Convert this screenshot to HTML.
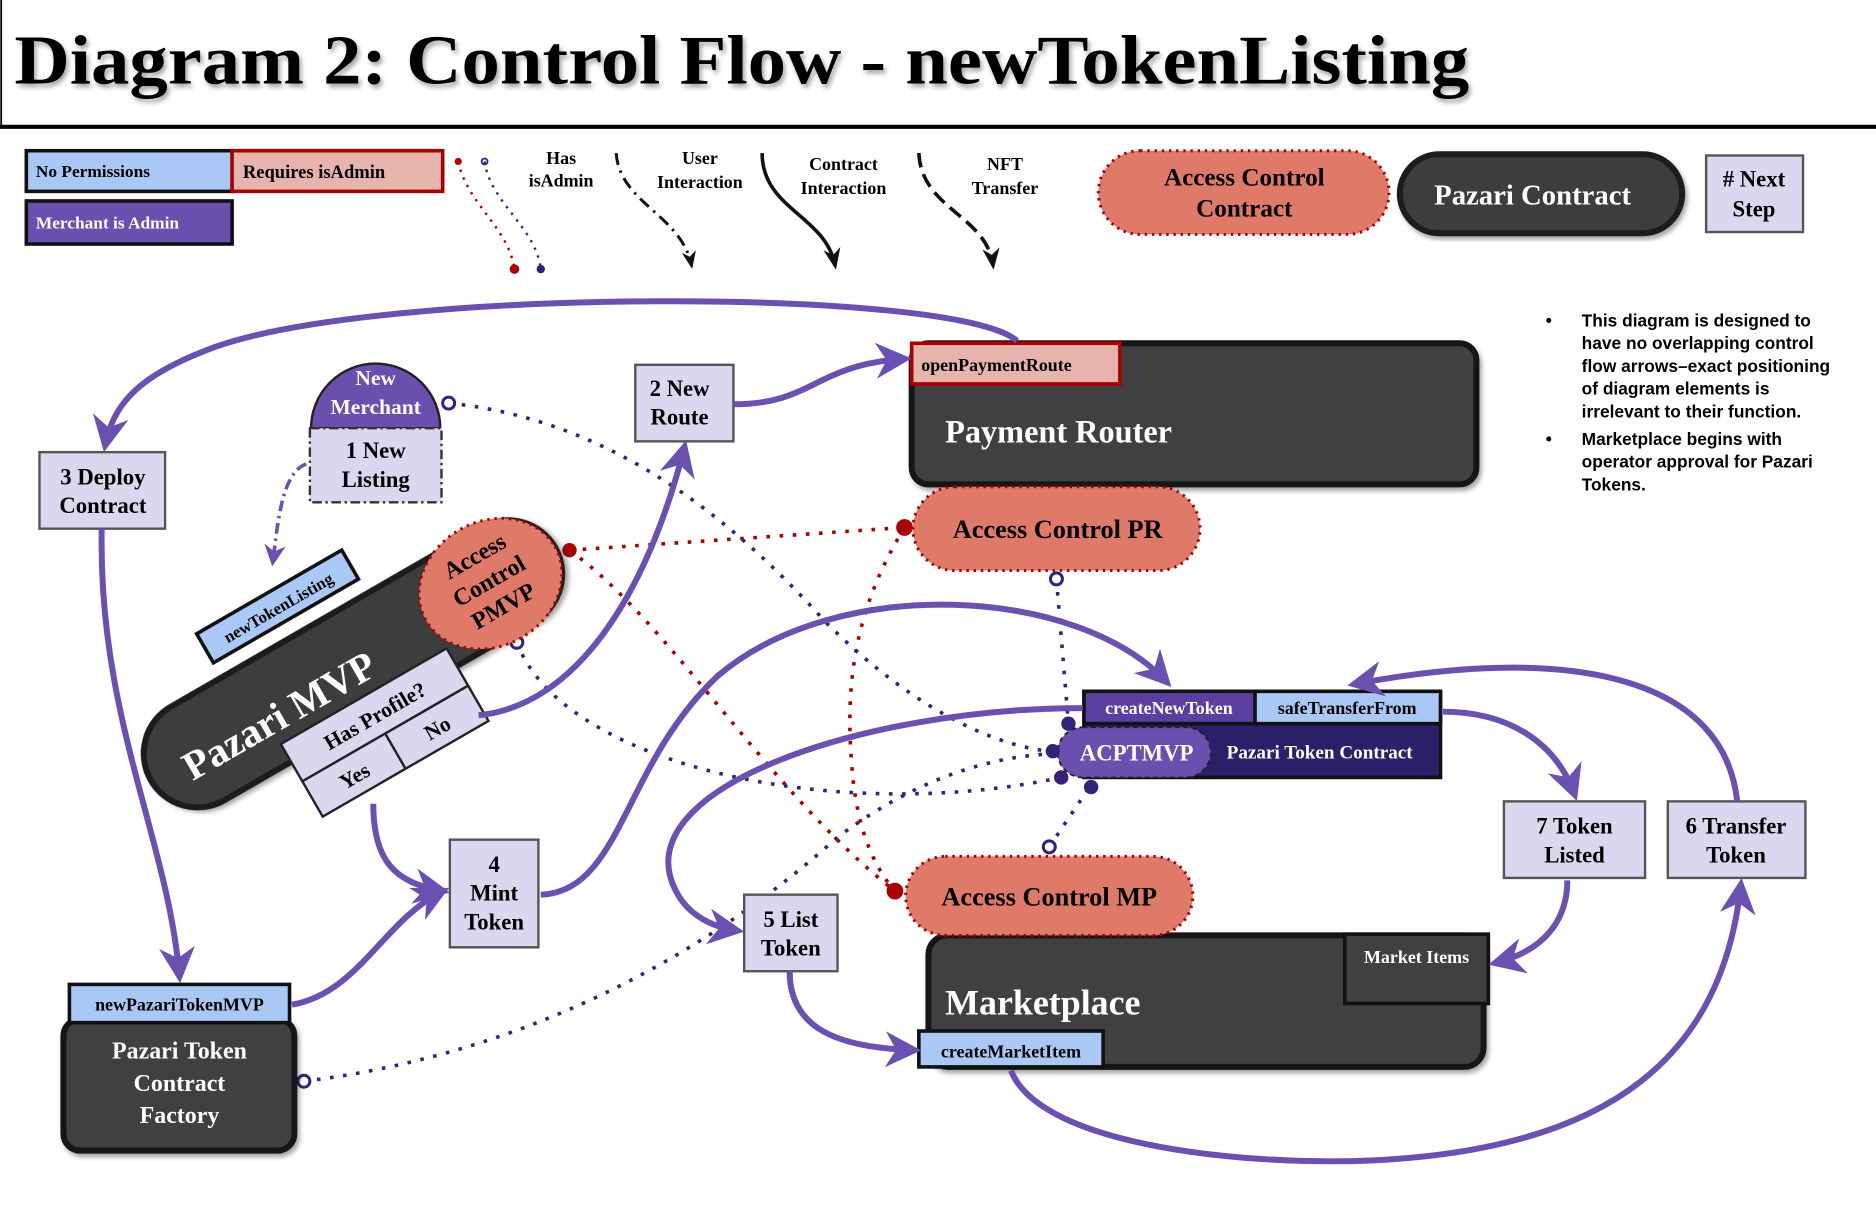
<!DOCTYPE html>
<html><head><meta charset="utf-8"><style>
html,body{margin:0;padding:0;background:#fff;}
svg{display:block;}
text{font-family:"Liberation Serif",serif;font-weight:bold;}
.s{font-family:"Liberation Sans",sans-serif;}
</style></head><body>
<svg width="1876" height="1226" viewBox="0 0 1568 1025" preserveAspectRatio="none" xmlns="http://www.w3.org/2000/svg">
<defs>
<marker id="ah" viewBox="0 0 10 10" refX="8" refY="5" markerWidth="6" markerHeight="6" orient="auto" markerUnits="strokeWidth"><path d="M0,0 L10,5 L0,10 L3,5 z" fill="#6a50b0"/></marker>
<marker id="bk" viewBox="0 0 10 10" refX="8" refY="5" markerWidth="6" markerHeight="6" orient="auto" markerUnits="strokeWidth"><path d="M0,1 L10,5 L0,9 L3,5 z" fill="#111"/></marker>
<filter id="sh"><feDropShadow dx="2" dy="3" stdDeviation="2" flood-opacity="0.35"/></filter>
</defs>

<line x1="1" y1="0" x2="1" y2="105" stroke="#000" stroke-width="1.5"/>
<line x1="0" y1="106" x2="1568" y2="106" stroke="#000" stroke-width="3.5"/>
<text x="12" y="70" font-size="58" textLength="1216" lengthAdjust="spacingAndGlyphs" filter="url(#sh)">Diagram 2: Control Flow - newTokenListing</text>

<rect x="22" y="126" width="172" height="34" fill="#a9c8f5" stroke="#111" stroke-width="3"/>
<text x="30" y="148" font-size="14.5" font-weight="normal">No Permissions</text>
<rect x="194" y="126" width="176" height="34" fill="#e6b3ad" stroke="#a00" stroke-width="3"/>
<text x="203" y="149" font-size="15.5" font-weight="normal">Requires isAdmin</text>
<rect x="22" y="168" width="172" height="36" fill="#6a4fae" stroke="#111" stroke-width="3"/>
<text x="30" y="191" font-size="14.5" font-weight="normal" fill="#fff">Merchant is Admin</text>

<path d="M383,135 C390,170 425,190 430,225" fill="none" stroke="#a00" stroke-width="2" stroke-dasharray="2 5"/>
<circle cx="383" cy="135" r="3" fill="#a00"/><circle cx="430" cy="225" r="4" fill="#a00"/>
<path d="M405,135 C410,170 448,190 452,225" fill="none" stroke="#33227a" stroke-width="2" stroke-dasharray="2 5"/>
<circle cx="405" cy="135" r="2.5" fill="none" stroke="#33227a" stroke-width="1.5"/><circle cx="452" cy="225" r="3.5" fill="#33227a"/>
<text x="469" y="137" font-size="15" text-anchor="middle" font-weight="normal">Has</text>
<text x="469" y="156" font-size="15" text-anchor="middle" font-weight="normal">isAdmin</text>
<path d="M515,128 C518,170 570,180 578,222" fill="none" stroke="#111" stroke-width="2.5" stroke-dasharray="10 5 2 5" marker-end="url(#bk)"/>
<text x="585" y="137" font-size="15" text-anchor="middle" font-weight="normal">User</text>
<text x="585" y="157" font-size="15" text-anchor="middle" font-weight="normal">Interaction</text>
<path d="M637,128 C637,175 690,180 698,222" fill="none" stroke="#111" stroke-width="3" marker-end="url(#bk)"/>
<text x="705" y="142" font-size="15" text-anchor="middle" font-weight="normal">Contract</text>
<text x="705" y="162" font-size="15" text-anchor="middle" font-weight="normal">Interaction</text>
<path d="M768,128 C770,175 825,180 830,222" fill="none" stroke="#111" stroke-width="3" stroke-dasharray="12 6" marker-end="url(#bk)"/>
<text x="840" y="142" font-size="15" text-anchor="middle" font-weight="normal">NFT</text>
<text x="840" y="162" font-size="15" text-anchor="middle" font-weight="normal">Transfer</text>

<rect x="918" y="126" width="243" height="70" rx="35" fill="#e07a68" stroke="#a00" stroke-width="2.5" stroke-dasharray="2 4"/>
<text x="1040" y="155" font-size="21" text-anchor="middle" font-weight="normal">Access Control</text>
<text x="1040" y="181" font-size="21" text-anchor="middle" font-weight="normal">Contract</text>
<rect x="1170" y="129" width="236" height="66" rx="33" fill="#3d3d3d" stroke="#1a1a1a" stroke-width="5" filter="url(#sh)"/>
<text x="1281" y="171" font-size="24" text-anchor="middle" fill="#fff" font-weight="normal">Pazari Contract</text>
<rect x="1426" y="130" width="81" height="64" fill="#dcd6ef" stroke="#555" stroke-width="2"/>
<text x="1466" y="156" font-size="19" text-anchor="middle" font-weight="normal"># Next</text>
<text x="1466" y="181" font-size="19" text-anchor="middle" font-weight="normal">Step</text>

<g class="s" font-size="14.5" font-weight="bold">
<text class="s" x="1292" y="273">•</text>
<text class="s" x="1322" y="273">This diagram is designed to</text>
<text class="s" x="1322" y="292">have no overlapping control</text>
<text class="s" x="1322" y="311">flow arrows–exact positioning</text>
<text class="s" x="1322" y="330">of diagram elements is</text>
<text class="s" x="1322" y="349">irrelevant to their function.</text>
<text class="s" x="1292" y="372">•</text>
<text class="s" x="1322" y="372">Marketplace begins with</text>
<text class="s" x="1322" y="391">operator approval for Pazari</text>
<text class="s" x="1322" y="410">Tokens.</text>
</g>

<g fill="none" stroke-width="3" stroke-dasharray="3 8">
<path d="M476,460 L756,441" stroke="#a00"/>
<path d="M476,460 C560,520 640,660 748,745" stroke="#a00"/>
<path d="M756,441 C720,500 705,560 712,640 C716,700 735,730 748,745" stroke="#a00"/>
<path d="M375,337 C500,350 600,420 690,520 C770,600 840,625 878,628" stroke="#33227a"/>
<path d="M883,484 L893,605" stroke="#33227a"/>
<path d="M432,537 C470,640 700,690 887,650" stroke="#33227a"/>
<path d="M254,904 C450,880 600,790 700,700 C780,640 850,630 890,630" stroke="#33227a"/>
<path d="M877,708 L912,656" stroke="#33227a"/>
</g>
<circle cx="476" cy="460" r="6" fill="#a00"/>
<circle cx="756" cy="441" r="7" fill="#a00"/>
<circle cx="748" cy="745" r="7" fill="#a00"/>
<circle cx="375" cy="337" r="5" fill="#fff" stroke="#33227a" stroke-width="2.5"/>
<circle cx="432" cy="537" r="5" fill="#fff" stroke="#33227a" stroke-width="2.5"/>
<circle cx="883" cy="484" r="5" fill="#fff" stroke="#33227a" stroke-width="2.5"/>
<circle cx="877" cy="708" r="5" fill="#fff" stroke="#33227a" stroke-width="2.5"/>
<circle cx="254" cy="904" r="5" fill="#fff" stroke="#33227a" stroke-width="2.5"/>

<rect x="762" y="287" width="472" height="118" rx="14" fill="#404040" stroke="#151515" stroke-width="5" filter="url(#sh)"/>
<text x="790" y="370" font-size="27" fill="#fff" font-weight="normal">Payment Router</text>
<rect x="762" y="287" width="174" height="34" fill="#e6b3ad" stroke="#a00" stroke-width="3"/>
<text x="770" y="310" font-size="15" font-weight="normal">openPaymentRoute</text>

<rect x="763" y="407" width="240" height="70" rx="35" fill="#e07a68" stroke="#a00" stroke-width="2.5" stroke-dasharray="2 4"/>
<text x="884" y="450" font-size="22" text-anchor="middle" font-weight="normal">Access Control PR</text>

<rect x="531" y="305" width="82" height="64" fill="#dcd6ef" stroke="#555" stroke-width="2"/>
<text x="568" y="331" font-size="19" text-anchor="middle" font-weight="normal">2 New</text>
<text x="568" y="355" font-size="19" text-anchor="middle" font-weight="normal">Route</text>

<rect x="33" y="378" width="105" height="64" fill="#dcd6ef" stroke="#555" stroke-width="2"/>
<text x="86" y="405" font-size="19" text-anchor="middle" font-weight="normal">3 Deploy</text>
<text x="86" y="429" font-size="19" text-anchor="middle" font-weight="normal">Contract</text>

<path d="M260,358 A54,54 0 0 1 368,358 Z" fill="#6a4fae" stroke="#222" stroke-width="2"/>
<text x="314" y="322" font-size="18" text-anchor="middle" fill="#fff" font-weight="normal">New</text>
<text x="314" y="346" font-size="18" text-anchor="middle" fill="#fff" font-weight="normal">Merchant</text>
<rect x="259" y="358" width="110" height="62" fill="#dcd6ef" stroke="#333" stroke-width="2" stroke-dasharray="8 3 2 3"/>
<text x="314" y="383" font-size="19" text-anchor="middle" font-weight="normal">1 New</text>
<text x="314" y="407" font-size="19" text-anchor="middle" font-weight="normal">Listing</text>

<rect x="376" y="702" width="74" height="90" fill="#dcd6ef" stroke="#555" stroke-width="2"/>
<text x="413" y="729" font-size="19" text-anchor="middle" font-weight="normal">4</text>
<text x="413" y="753" font-size="19" text-anchor="middle" font-weight="normal">Mint</text>
<text x="413" y="777" font-size="19" text-anchor="middle" font-weight="normal">Token</text>

<rect x="622" y="748" width="78" height="64" fill="#dcd6ef" stroke="#555" stroke-width="2"/>
<text x="661" y="775" font-size="19" text-anchor="middle" font-weight="normal">5 List</text>
<text x="661" y="799" font-size="19" text-anchor="middle" font-weight="normal">Token</text>

<rect x="1257" y="670" width="118" height="64" fill="#dcd6ef" stroke="#555" stroke-width="2"/>
<text x="1316" y="697" font-size="19" text-anchor="middle" font-weight="normal">7 Token</text>
<text x="1316" y="721" font-size="19" text-anchor="middle" font-weight="normal">Listed</text>
<rect x="1394" y="670" width="115" height="64" fill="#dcd6ef" stroke="#555" stroke-width="2"/>
<text x="1451" y="697" font-size="19" text-anchor="middle" font-weight="normal">6 Transfer</text>
<text x="1451" y="721" font-size="19" text-anchor="middle" font-weight="normal">Token</text>

<rect x="53" y="852" width="193" height="110" rx="14" fill="#404040" stroke="#151515" stroke-width="5" filter="url(#sh)"/>
<text x="150" y="885" font-size="20" text-anchor="middle" fill="#fff" font-weight="normal">Pazari Token</text>
<text x="150" y="912" font-size="20" text-anchor="middle" fill="#fff" font-weight="normal">Contract</text>
<text x="150" y="939" font-size="20" text-anchor="middle" fill="#fff" font-weight="normal">Factory</text>
<rect x="58" y="823" width="184" height="32" fill="#a9c8f5" stroke="#111" stroke-width="3"/>
<text x="150" y="845" font-size="15" text-anchor="middle" font-weight="normal">newPazariTokenMVP</text>

<rect x="906" y="578" width="298" height="72" fill="#2c1f6a" stroke="#111" stroke-width="3"/>
<rect x="906" y="578" width="143" height="27" fill="#5a3fa0" stroke="#111" stroke-width="3"/>
<text x="977" y="597" font-size="15" text-anchor="middle" fill="#fff" font-weight="normal">createNewToken</text>
<rect x="1049" y="578" width="155" height="27" fill="#a9c8f5" stroke="#111" stroke-width="3"/>
<text x="1126" y="597" font-size="15" text-anchor="middle" font-weight="normal">safeTransferFrom</text>
<text x="1103" y="634" font-size="16" text-anchor="middle" fill="#fff" font-weight="normal">Pazari Token Contract</text>
<rect x="884" y="608" width="128" height="42" rx="21" fill="#6a4fae" stroke="#222" stroke-width="1.5" stroke-dasharray="4 3"/>
<text x="950" y="636" font-size="19" text-anchor="middle" fill="#fff" font-weight="normal">ACPTMVP</text>
<circle cx="893" cy="605" r="6" fill="#33227a"/><circle cx="880" cy="628" r="6" fill="#33227a"/>
<circle cx="887" cy="650" r="6" fill="#33227a"/><circle cx="912" cy="658" r="6" fill="#33227a"/>

<rect x="776" y="782" width="464" height="110" rx="16" fill="#404040" stroke="#151515" stroke-width="5" filter="url(#sh)"/>
<text x="790" y="848" font-size="30" fill="#fff" font-weight="normal">Marketplace</text>
<rect x="1124" y="781" width="120" height="58" fill="#404040" stroke="#111" stroke-width="3"/>
<text x="1184" y="805" font-size="15" text-anchor="middle" fill="#fff" font-weight="normal">Market Items</text>
<rect x="768" y="862" width="154" height="30" fill="#a9c8f5" stroke="#111" stroke-width="3"/>
<text x="845" y="884" font-size="15" text-anchor="middle" font-weight="normal">createMarketItem</text>
<rect x="757" y="716" width="240" height="66" rx="33" fill="#e07a68" stroke="#a00" stroke-width="2.5" stroke-dasharray="2 4"/>
<text x="877" y="757" font-size="22" text-anchor="middle" font-weight="normal">Access Control MP</text>

<g transform="translate(295,555) rotate(-30)">
<rect x="-195" y="-45" width="390" height="90" rx="45" fill="#3d3d3d" stroke="#1a1a1a" stroke-width="5" filter="url(#sh)"/>
<text x="-75" y="18" font-size="34" fill="#fff" font-weight="normal" text-anchor="middle">Pazari MVP</text>
</g>
<g transform="translate(232,507) rotate(-30)">
<rect x="-70" y="-14" width="140" height="28" fill="#a9c8f5" stroke="#111" stroke-width="3"/>
<text x="0" y="6" font-size="14" text-anchor="middle" font-weight="normal">newTokenListing</text>
</g>
<g transform="translate(410,488) rotate(-30)">
<ellipse cx="0" cy="0" rx="62" ry="52" fill="#e07a68" stroke="#a00" stroke-width="2.5" stroke-dasharray="2 4"/>
<text x="0" y="-20" font-size="20" text-anchor="middle" font-weight="normal">Access</text>
<text x="0" y="4" font-size="20" text-anchor="middle" font-weight="normal">Control</text>
<text x="0" y="28" font-size="20" text-anchor="middle" font-weight="normal">PMVP</text>
</g>
<g transform="translate(323,615) rotate(-30)">
<rect x="-80" y="-38" width="160" height="36" fill="#dcd6ef" stroke="#222" stroke-width="2"/>
<text x="0" y="-13" font-size="18" text-anchor="middle" font-weight="normal">Has Profile?</text>
<rect x="-80" y="-2" width="80" height="34" fill="#dcd6ef" stroke="#222" stroke-width="2"/>
<rect x="0" y="-2" width="80" height="34" fill="#dcd6ef" stroke="#222" stroke-width="2"/>
<text x="-40" y="22" font-size="18" text-anchor="middle" font-weight="normal">Yes</text>
<text x="40" y="22" font-size="18" text-anchor="middle" font-weight="normal">No</text>
</g>
<path d="M256,388 C235,395 232,440 228,470" fill="none" stroke="#6a50b0" stroke-width="3" stroke-dasharray="9 4 2 4" marker-end="url(#ah)"/>

<g fill="none" stroke="#6a50b0" stroke-width="5" marker-end="url(#ah)">
<path d="M850,285 C800,240 320,240 180,290 C120,312 95,335 88,372"/>
<path d="M85,442 C82,600 140,700 150,816"/>
<path d="M244,840 C300,830 320,770 370,745"/>
<path d="M312,672 C312,720 330,738 370,745"/>
<path d="M400,598 C480,590 540,500 572,374"/>
<path d="M613,338 C680,338 680,305 756,300"/>
<path d="M452,748 C520,745 520,640 600,565 C700,480 900,490 975,570"/>
<path d="M905,592 C720,592 520,660 565,745 C575,765 595,775 616,778"/>
<path d="M660,812 C660,860 700,876 764,878"/>
<path d="M1206,595 C1260,595 1300,620 1316,664"/>
<path d="M1310,736 C1310,770 1290,795 1250,805"/>
<path d="M845,895 C870,960 1050,975 1150,970 C1350,960 1440,880 1455,740"/>
<path d="M1452,670 C1440,560 1300,540 1132,572"/>
</g>
</svg>
</body></html>
